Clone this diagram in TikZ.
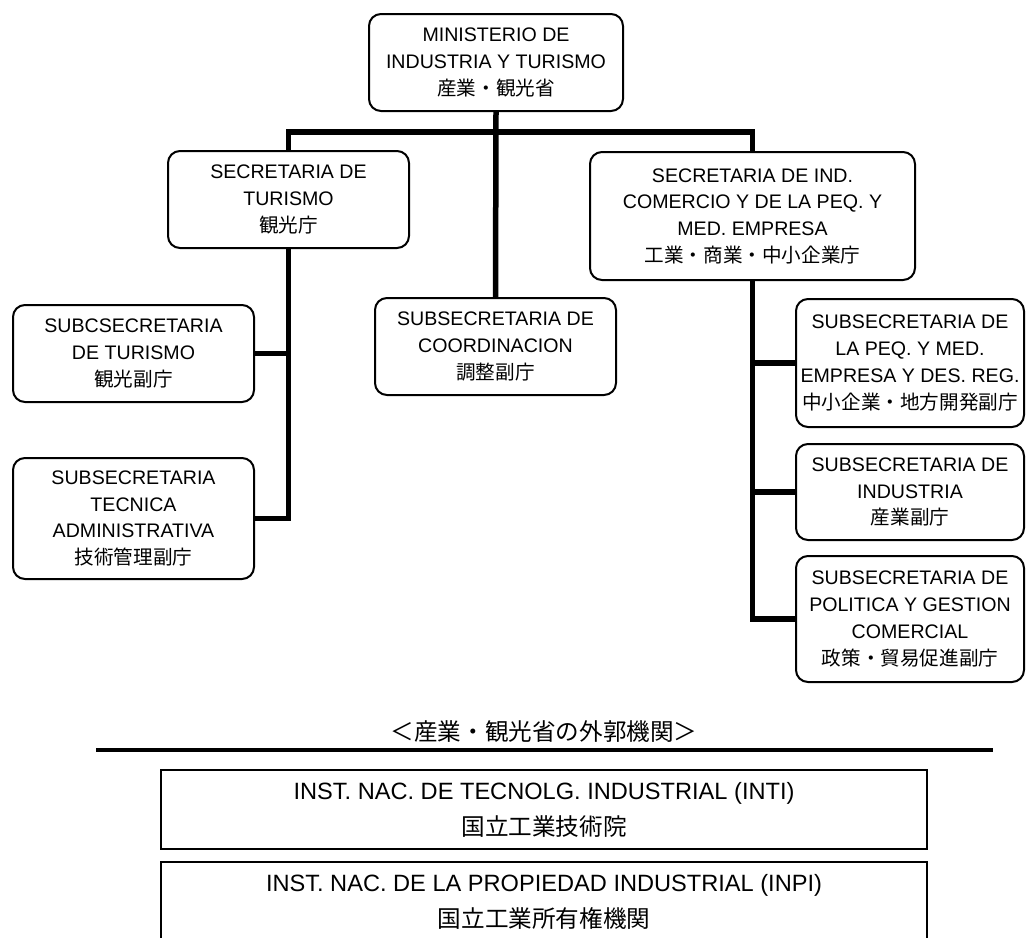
\documentclass[tikz,border=0pt]{standalone}
\usepackage{fontspec}
\setmainfont{Liberation Sans}
\newfontfamily\jp{Noto Sans CJK JP}
\begin{document}
\begin{tikzpicture}[x=1pt,y=-1pt,
  box/.style={draw, line width=2pt, rounded corners=12pt, align=center, inner sep=0pt,
    font=\fontsize{19.6}{26.7}\selectfont},
  conn/.style={line width=5.5pt, line join=miter},
  ext/.style={draw, line width=2pt, align=center, inner sep=0pt,
    font=\fontsize{23.6}{36}\selectfont},
  rule/.style={line width=4pt}]
\clip (0,0) rectangle (1027,937);
\fill[white] (0,0) rectangle (1027,937);

\node[box, minimum width=254pt, minimum height=97pt] (min) at (496,62.5)
  {MINISTERIO DE\\INDUSTRIA Y TURISMO\\{\jp 産業・観光省}};
\node[box, minimum width=241pt, minimum height=97pt] (sdt) at (288.5,199.5)
  {SECRETARIA DE\\TURISMO\\{\jp 観光庁}};
\node[box, minimum width=325pt, minimum height=128pt] (sdi) at (752.5,216)
  {SECRETARIA DE IND.\\COMERCIO Y DE LA PEQ. Y\\MED. EMPRESA\\{\jp 工業・商業・中小企業庁}};
\node[box, minimum width=241pt, minimum height=97pt] (coord) at (495.5,346.5)
  {SUBSECRETARIA DE\\COORDINACION\\{\jp 調整副庁}};
\node[box, minimum width=241pt, minimum height=97pt] (subtur) at (133.5,353.5)
  {SUBCSECRETARIA\\DE TURISMO\\{\jp 観光副庁}};
\node[box, minimum width=241pt, minimum height=121pt] (subtec) at (133.5,518.5)
  {SUBSECRETARIA\\TECNICA\\ADMINISTRATIVA\\{\jp 技術管理副庁}};
\node[box, minimum width=228pt, minimum height=128pt] (r1) at (910,363)
  {SUBSECRETARIA DE\\LA PEQ. Y MED.\\EMPRESA Y DES. REG.\\{\jp 中小企業・地方開発副庁}};
\node[box, minimum width=228pt, minimum height=96pt] (r2) at (910,492)
  {SUBSECRETARIA DE\\INDUSTRIA\\{\jp 産業副庁}};
\node[box, minimum width=228pt, minimum height=126pt] (r3) at (910,619)
  {SUBSECRETARIA DE\\POLITICA Y GESTION\\COMERCIAL\\{\jp 政策・貿易促進副庁}};

\coordinate (j) at (496,132);
\draw[conn] (sdt.north) |- (j) -| (sdi.north);
\draw[conn] (min.south) -- (coord.north);
\draw[conn] (sdt.south) |- (subtec.east);
\draw[conn] (subtur.east) -- (subtur.east -| sdt.south);
\draw[conn] (sdi.south) |- (r3.west);
\draw[conn] (r1.west) -- (r1.west -| sdi.south);
\draw[conn] (r2.west) -- (r2.west -| sdi.south);

\node[font=\jp\fontsize{23.6}{28}\selectfont, inner sep=0pt] (lbl) at (544,732)
  {＜産業・観光省の外郭機関＞};
\coordinate (ruleL) at (96,750);
\coordinate (ruleR) at (993,750);
\draw[rule] (ruleL) -- (ruleR);

\node[ext, minimum width=766pt, minimum height=79pt] (inti) at (544,809.5)
  {INST. NAC. DE TECNOLG. INDUSTRIAL (INTI)\\{\jp 国立工業技術院}};
\node[ext, minimum width=766pt, minimum height=80pt] (inpi) at (544,902)
  {INST. NAC. DE LA PROPIEDAD INDUSTRIAL (INPI)\\{\jp 国立工業所有権機関}};
\end{tikzpicture}
\end{document}
